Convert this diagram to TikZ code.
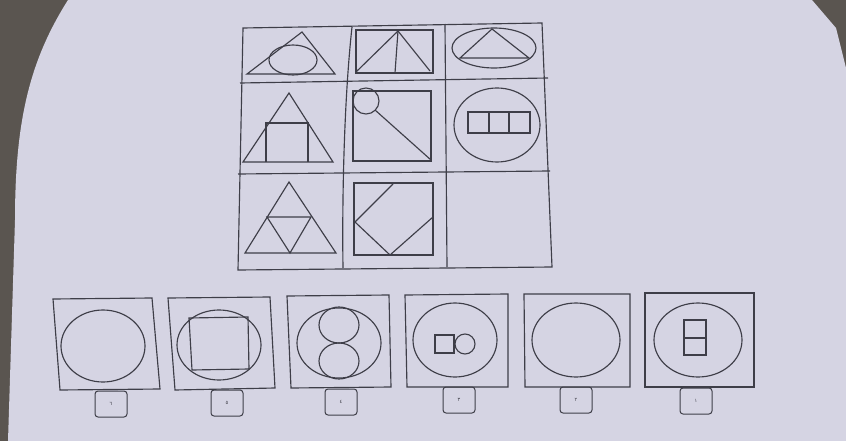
\documentclass[tikz,border=0pt]{standalone}
\usepackage{fontspec}
\usepackage{tikz}
\usetikzlibrary{positioning}
\newfontfamily\arabicfont[Script=Arabic]{DejaVu Sans}
\definecolor{paperBg}{HTML}{D5D4E3}
\definecolor{deskBg}{HTML}{5A5550}
\definecolor{inkLine}{HTML}{3E3E48}

\begin{document}
\begin{tikzpicture}[x=1pt,y=-1pt,
 ink/.style={draw=inkLine,line width=1.15pt},
 numbox/.style={draw=inkLine,line width=1pt,rounded corners=3pt,
 minimum width=32pt,minimum height=26pt,inner sep=0pt,
 font=\arabicfont\tiny,text=inkLine}]
\useasboundingbox (0,0) rectangle (846,441);
% photo background
\fill[deskBg] (0,0) rectangle (846,441);
\fill[paperBg] (68,0) .. controls (30,60) and (15,120) .. (15,220) -- (8,441) -- (846,441)
  -- (846,68) -- (836,28) -- (812,0) -- cycle;

% the 3x3 grid
\draw[ink] (243,28) -- (542,23) -- (552,267) -- (238,270) -- cycle;
\draw[ink] (240,83) -- (548,78);
\draw[ink] (238,174) -- (550,171);
\draw[ink] (352,27) .. controls (344,100) and (342,200) .. (343,268);
\draw[ink] (445,24) -- (447,267);

% row 1
\draw[ink] (247,74) -- (302,32) -- (335,74) -- cycle;
\draw[ink] (293,60) ellipse [x radius=24, y radius=15];
\draw[ink] (356,30) rectangle (433,73);
\draw[ink] (356,72) -- (398,31) -- (430,71);
\draw[ink] (398,31) -- (395,73);
\draw[ink] (494,48) ellipse [x radius=42, y radius=20];
\draw[ink] (460,58) -- (492,29) -- (529,58) -- cycle;

% row 2
\draw[ink] (243,162) -- (289,93) -- (333,162) -- cycle;
\draw[ink] (266,162) -- (266,123) -- (308,123) -- (308,162);
\draw[ink] (353,91) rectangle (431,161);
\draw[ink] (366,101) circle [radius=13];
\draw[ink] (375,110) -- (431,160);
\draw[ink] (497,125) ellipse [x radius=43, y radius=37];
\draw[ink] (468,112) rectangle (530,133);
\draw[ink] (489,112) -- (489,133) (509,112) -- (509,133);

% row 3
\draw[ink] (245,253) -- (289,182) -- (336,253) -- cycle;
\draw[ink] (267,217) -- (311,217) -- (290,253) -- cycle;
\draw[ink] (354,183) rectangle (433,255);
\draw[ink] (393,184) -- (355,222) -- (390,255) -- (433,217);

% answer options
\draw[ink] (53,299) -- (152,298) -- (160,389) -- (60,390) -- cycle;
\draw[ink] (103,346) ellipse [x radius=42, y radius=36];

\draw[ink] (168,298) -- (270,297) -- (275,388) -- (175,390) -- cycle;
\draw[ink] (219,345) ellipse [x radius=42, y radius=35];
\draw[ink] (189,318) -- (248,317) -- (249,369) -- (192,370) -- cycle;

\draw[ink] (287,296) -- (389,295) -- (391,387) -- (291,388) -- cycle;
\draw[ink] (339,343) ellipse [x radius=42, y radius=35];
\draw[ink] (339,325) ellipse [x radius=20, y radius=18];
\draw[ink] (339,361) ellipse [x radius=20, y radius=18];

\draw[ink] (405,295) -- (508,294) -- (508,387) -- (407,387) -- cycle;
\draw[ink] (455,340) ellipse [x radius=42, y radius=37];
\draw[ink] (435,335) rectangle (454,353);
\draw[ink] (465,344) circle [radius=10];

\draw[ink] (524,294) -- (630,294) -- (630,387) -- (525,387) -- cycle;
\draw[ink] (576,340) ellipse [x radius=44, y radius=37];

\draw[ink] (645,293) -- (754,293) -- (754,387) -- (645,387) -- cycle;
\draw[ink] (698,340) ellipse [x radius=44, y radius=37];
\draw[ink] (684,320) rectangle (706,355);
\draw[ink] (684,338) -- (706,338);

% option numbers
\node[numbox] (lbl6) at (111,404) {٦};
\node[numbox] (lbl5) at (227,403) {٥};
\node[numbox] (lbl4) at (341,402) {٤};
\node[numbox] (lbl3) at (459,400) {٣};
\node[numbox] (lbl2) at (576,400) {٢};
\node[numbox] (lbl1) at (696,401) {١};
\end{tikzpicture}
\end{document}
